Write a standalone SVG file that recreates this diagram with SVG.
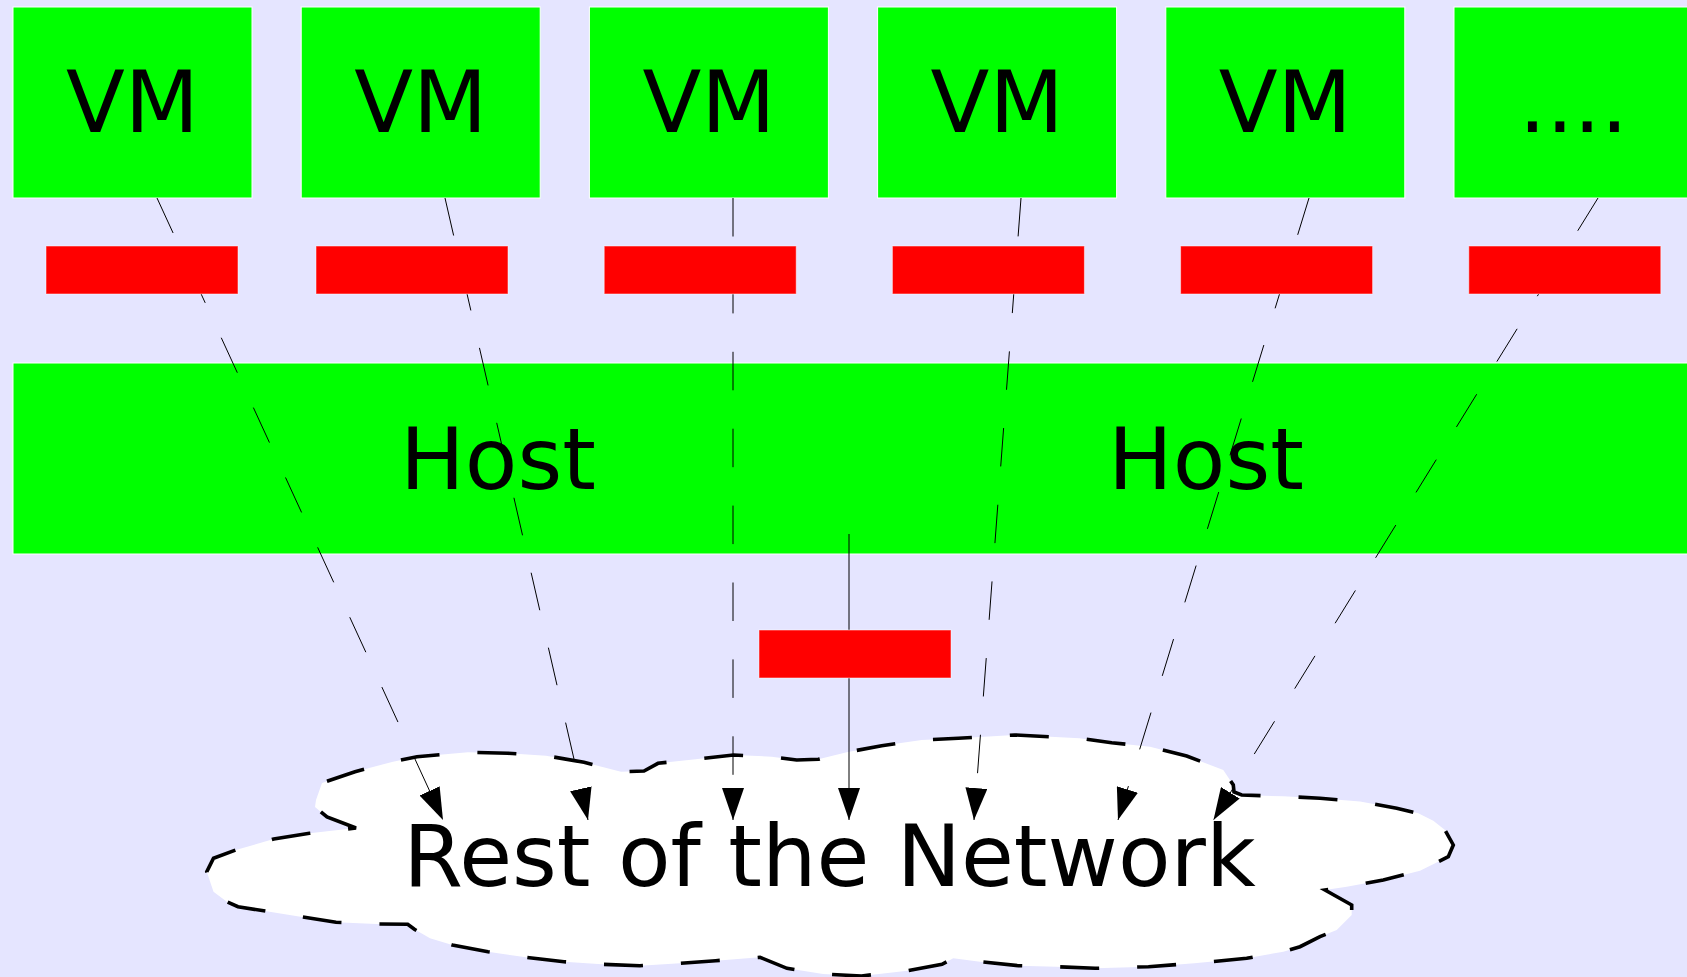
<svg xmlns="http://www.w3.org/2000/svg" width="1687" height="977" viewBox="0 0 1687 977">
  <defs>
    <style>
      .vm { fill: #00ff00; stroke: #ffffff; stroke-width: 1; }
      .host { fill: #00ff00; stroke: #ffffff; stroke-width: 1; }
      .nic { fill: #ff0000; stroke: #ffffff; stroke-width: 1; stroke-opacity: 0.5; }
      .lbl { font-family: "DejaVu Sans", sans-serif; font-size: 86px; fill: #000000; text-anchor: middle; }
      .cloud { fill: #ffffff; stroke: #000000; stroke-width: 3.6; stroke-dasharray: 39 38; stroke-linejoin: miter; }
      .conn { fill: none; stroke: #000000; stroke-width: 1; marker-end: url(#arrow); }
      .dashed { stroke-dasharray: 38.5 38.4; }
    </style>
    <marker id="arrow" markerUnits="userSpaceOnUse" markerWidth="32" markerHeight="22" viewBox="0 0 32 22" refX="32" refY="11" orient="auto">
      <path d="M0,0 L32,11 L0,22 Z" fill="#000000"/>
    </marker>
  </defs>

  <rect x="0" y="0" width="1687" height="977" fill="#e5e5ff"/>

  <g id="vm1"><rect class="vm" x="13" y="7" width="239" height="191"/><text class="lbl" x="132.5" y="132">VM</text></g>
  <g id="vm2"><rect class="vm" x="301.2" y="7" width="239" height="191"/><text class="lbl" x="420.7" y="132">VM</text></g>
  <g id="vm3"><rect class="vm" x="589.4" y="7" width="239" height="191"/><text class="lbl" x="708.9" y="132">VM</text></g>
  <g id="vm4"><rect class="vm" x="877.6" y="7" width="239" height="191"/><text class="lbl" x="997.1" y="132">VM</text></g>
  <g id="vm5"><rect class="vm" x="1165.8" y="7" width="239" height="191"/><text class="lbl" x="1285.3" y="132">VM</text></g>
  <g id="vm6"><rect class="vm" x="1454" y="7" width="239" height="191"/><text class="lbl" x="1573.5" y="132">....</text></g>

  <g id="host">
    <rect class="host" x="13" y="363" width="1690" height="191"/>
    <text class="lbl" x="498" y="489">Host</text>
    <text class="lbl" x="1206" y="489">Host</text>
  </g>

  <g id="network">
    <path class="cloud" d="M356,828 L327,817 L315,807 L316,800 L322,783 L355,771.7 L393,761.7 L417,756.7 L468,752.3 L508,753.3 L546,755.7 L584,762.3 L621,771.7 L644,771 L658,763.3 L695.6,759.3 L733.5,755 L771.7,756.7 L796.7,760 L818.3,759.3 L846.7,752.3 L881.7,745.7 L921.7,740 L958.3,738.3 L1014.6,735 L1079.6,738.3 L1111.7,742.7 L1150,746.7 L1186.7,756 L1223.3,770 L1233.3,785 L1234,792 L1241.7,795 L1283.3,796.3 L1320,798.3 L1360,801.5 L1396.7,808.3 L1418.3,813.3 L1433.3,820.7 L1445,830 L1453.3,845 L1448.3,856.7 L1420,870.7 L1383.3,880 L1346.7,886.7 L1325,890 L1351.7,905 L1351.7,915 L1336.7,930 L1320,936.7 L1300,946.7 L1283.3,951.7 L1246.7,958.3 L1194.4,963.3 L1148.5,966.7 L1095,968.3 L1056.7,966.7 L1018.4,965.7 L980,961.7 L953.3,958.3 L942,964.3 L907.4,970.7 L861.5,976 L823,974 L787,968.3 L760,957.3 L715.7,960.7 L680,963.3 L639.8,965.7 L602,964.3 L564,961.7 L526,957.3 L488,951.7 L452.3,945 L430,938.3 L414.4,929.3 L407.7,924.3 L376.4,924 L336,922.3 L300.5,916.7 L238,906.7 L226.9,901.7 L213.5,891.7 L206.8,871.7 L213.5,858.3 L235.8,850 L273.75,839 L309.5,833.3 Z"/>
    <text class="lbl" x="829.5" y="886">Rest of the Network</text>
  </g>

  <g id="connectors">
    <path class="conn dashed" d="M157,198 L443,820"/>
    <path class="conn dashed" d="M445,198 L588,820"/>
    <path class="conn dashed" d="M733,198 L733,820"/>
    <path class="conn" d="M849,534 L849,820"/>
    <path class="conn dashed" d="M1021,198 L974,820"/>
    <path class="conn dashed" d="M1309,198 L1118,820"/>
    <path class="conn dashed" d="M1598,198 L1213.5,820"/>
  </g>

  <g id="nic1"><rect class="nic" x="46" y="246" width="192" height="48"/></g>
  <g id="nic2"><rect class="nic" x="316" y="246" width="192" height="48"/></g>
  <g id="nic3"><rect class="nic" x="604.2" y="246" width="192" height="48"/></g>
  <g id="nic4"><rect class="nic" x="892.4" y="246" width="192" height="48"/></g>
  <g id="nic5"><rect class="nic" x="1180.6" y="246" width="192" height="48"/></g>
  <g id="nic6"><rect class="nic" x="1468.8" y="246" width="192" height="48"/></g>
  <g id="nic-host"><rect class="nic" x="759" y="630" width="192" height="48"/></g>
</svg>
